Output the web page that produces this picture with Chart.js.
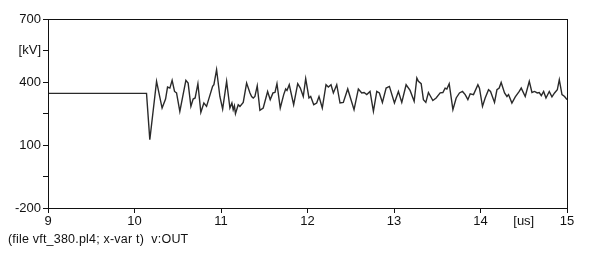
<!DOCTYPE html>
<html>
<head>
<meta charset="utf-8">
<script src="https://cdn.jsdelivr.net/npm/chart.js@4/dist/chart.umd.min.js"></script>
<style>
  html, body { margin: 0; padding: 0; background: #fff; }
  .wrap { position: relative; width: 591px; height: 253px; }
  .footer {
    position: absolute; left: 8px; top: 232px;
    font: 12.5px "Liberation Sans", Arial, sans-serif; color: #111;
    white-space: pre; letter-spacing: 0.2px;
  }
</style>
</head>
<body>
<div class="wrap">
  <canvas id="chart" width="591" height="253"></canvas>
  <div class="footer">(file vft_380.pl4; x-var t)  v:OUT</div>
</div>
<script>
// time in microseconds, voltage at OUT in kV
const timeUs = [
  9.000, 10.139, 10.177, 10.255, 10.319, 10.359, 10.382, 10.409, 10.435, 10.463,
  10.486, 10.524, 10.594, 10.620, 10.652, 10.678, 10.701, 10.733, 10.767, 10.802,
  10.833, 10.903, 10.918, 10.949, 10.987, 11.019, 11.065, 11.103, 11.126, 11.141,
  11.155, 11.167, 11.199, 11.219, 11.257, 11.296, 11.335, 11.354, 11.373, 11.392,
  11.419, 11.450, 11.488, 11.539, 11.569, 11.601, 11.624, 11.647, 11.685, 11.725,
  11.748, 11.763, 11.789, 11.840, 11.887, 11.917, 11.951, 11.979, 12.017, 12.037,
  12.072, 12.106, 12.133, 12.171, 12.214, 12.241, 12.272, 12.299, 12.338, 12.376,
  12.414, 12.465, 12.538, 12.588, 12.627, 12.654, 12.685, 12.723, 12.762, 12.801,
  12.831, 12.866, 12.909, 12.947, 13.005, 13.051, 13.090, 13.140, 13.186, 13.233,
  13.264, 13.282, 13.314, 13.340, 13.368, 13.398, 13.449, 13.487, 13.534, 13.565,
  13.591, 13.611, 13.638, 13.681, 13.719, 13.757, 13.792, 13.823, 13.854, 13.881,
  13.919, 13.970, 13.988, 14.023, 14.054, 14.093, 14.116, 14.162, 14.190, 14.216,
  14.239, 14.278, 14.306, 14.324, 14.363, 14.402, 14.448, 14.471, 14.517, 14.564,
  14.595, 14.625, 14.656, 14.679, 14.703, 14.730, 14.757, 14.795, 14.826, 14.856,
  14.888, 14.911, 14.942, 14.972, 15.000
];
const voltageKv = [
  346, 346, 125, 403, 276, 319, 376, 371, 408, 355,
  348, 260, 408, 395, 284, 319, 324, 392, 255, 300,
  284, 379, 387, 459, 331, 271, 403, 276, 300, 268,
  287, 249, 292, 284, 303, 395, 348, 331, 324, 331,
  382, 265, 276, 355, 316, 348, 350, 392, 276, 340,
  367, 360, 387, 292, 392, 371, 331, 416, 324, 331,
  292, 300, 331, 276, 387, 376, 387, 348, 387, 300,
  303, 367, 268, 367, 348, 350, 340, 355, 260, 355,
  348, 303, 371, 379, 300, 355, 303, 387, 360, 308,
  419, 403, 392, 316, 303, 350, 312, 324, 348, 350,
  371, 367, 392, 268, 324, 348, 355, 340, 316, 344,
  340, 387, 371, 284, 324, 363, 355, 303, 363, 371,
  398, 348, 331, 340, 300, 329, 355, 371, 331, 403,
  350, 355, 348, 350, 335, 355, 324, 355, 329, 348,
  363, 411, 340, 331, 316
];

// axis labels
const xTickValues = [9, 10, 11, 12, 13, 14, 15];
const xUnitLabel = "[us]";
const xUnitAt = 14.5;
const yTickLabels = { 700: "700", 550: "[kV]", 400: "400", 250: "", 100: "100", "-50": "", "-200": "-200" };

const FONT = { family: '"Liberation Sans", Arial, sans-serif', size: 13 };
const INK = "#111";

const frame = {
  id: "frame",
  afterDraw(c) {
    const { ctx, chartArea: a } = c;
    ctx.save();
    ctx.strokeStyle = INK;
    ctx.lineWidth = 1;
    ctx.strokeRect(Math.round(a.left) + 0.5, Math.round(a.top) + 0.5,
      Math.round(a.right - a.left), Math.round(a.bottom - a.top));
    ctx.restore();
  },
};

new Chart(document.getElementById("chart"), {
  type: "line",
  data: {
    datasets: [{
      data: timeUs.map((t, i) => ({ x: t, y: voltageKv[i] })),
      borderColor: "#2a2a2a",
      borderWidth: 1.4,
      pointRadius: 0,
      tension: 0,
      fill: false,
    }],
  },
  options: {
    responsive: false,
    animation: false,
    events: [],
    layout: { autoPadding: false, padding: { left: 0, top: 19, right: 24, bottom: 21 } },
    plugins: { legend: { display: false }, tooltip: { enabled: false } },
    scales: {
      x: {
        type: "linear",
        min: 9,
        max: 15,
        afterFit: (s) => { s.height = 24; },
        afterBuildTicks: (s) => {
          s.ticks = [...xTickValues, xUnitAt].sort((a, b) => a - b).map((v) => ({ value: v }));
        },
        ticks: {
          color: INK, font: FONT, padding: 1, maxRotation: 0, autoSkip: false,
          callback: (v) => (v === xUnitAt ? xUnitLabel : String(v)),
        },
        grid: {
          drawOnChartArea: false, drawTicks: true, tickLength: 5,
          color: (ctx) => (ctx.tick && ctx.tick.value === xUnitAt ? "rgba(0,0,0,0)" : INK),
        },
        border: { display: false },
      },
      y: {
        min: -200,
        max: 700,
        afterFit: (s) => { s.width = 48; },
        ticks: {
          stepSize: 150, color: INK, font: FONT, padding: 2,
          callback: (v) => yTickLabels[v] ?? "",
        },
        grid: { drawOnChartArea: false, drawTicks: true, tickLength: 5, color: INK },
        border: { display: false },
      },
    },
  },
  plugins: [frame],
});
</script>
</body>
</html>
